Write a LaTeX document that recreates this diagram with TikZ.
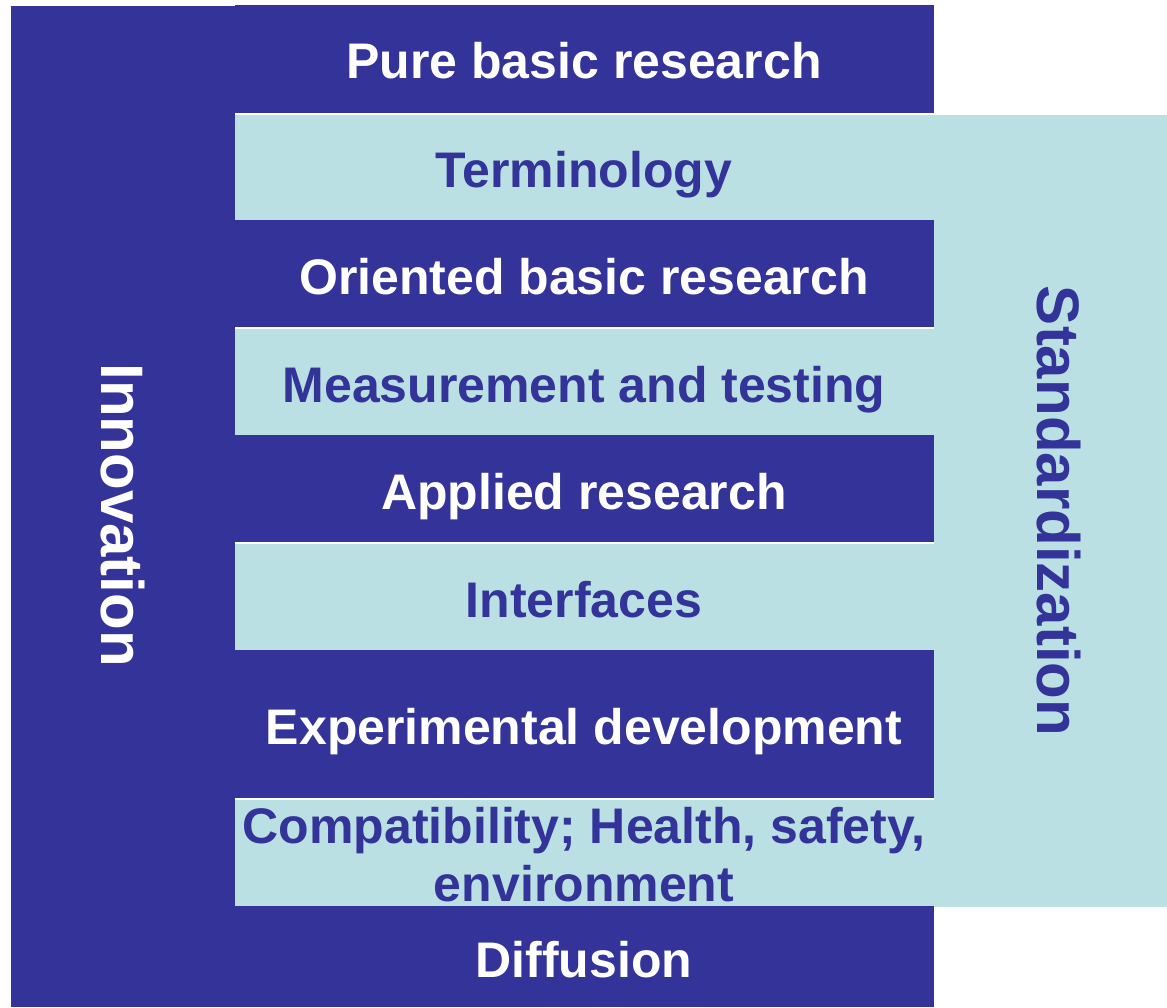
\documentclass[tikz,border=0pt]{standalone}
\usepackage{fontspec}
\setmainfont{Liberation Sans}
\definecolor{innoblue}{RGB}{51,51,153}
\definecolor{stdcyan}{RGB}{186,224,227}

\begin{document}
\begin{tikzpicture}[x=1pt,y=-1pt,
		lab/.style={font=\fontsize{50}{58}\selectfont\bfseries, inner sep=0pt, align=center},
		darklab/.style={lab, text=white},
		lightlab/.style={lab, text=innoblue},
		sidelab/.style={font=\fontsize{60}{72}\selectfont\bfseries, inner sep=0pt, rotate=-90}]
		\useasboundingbox (0,0) rectangle (1167,1007);
		\fill[innoblue] (11,6) rectangle (934,1007);
		\fill[innoblue] (235,5) rectangle (934,6);
		\fill[stdcyan] (934,115) rectangle (1167,907);
		\foreach \top/\bot in {115/220, 329/435, 544/650, 800/906}{
			\fill[stdcyan] (235,\top) rectangle (934,\bot);
			\draw[white, line width=2pt] (235,\top-1) -- (934,\top-1);
		}
		\node[darklab, anchor = base] (pure) at (584,78) {Pure basic research};
		\node[lightlab, anchor = base] (term) at (584,187) {Terminology};
		\node[darklab, anchor = base] (orient) at (584,294) {Oriented basic research};
		\node[lightlab, anchor = base] (meas) at (584,402) {Measurement and testing};
		\node[darklab, anchor = base] (appl) at (584,509) {Applied research};
		\node[lightlab, anchor = base] (intf) at (584,617) {Interfaces};
		\node[darklab, anchor = base] (exper) at (584,744) {Experimental development};
		\node[lightlab] (compat) at (584,855) {Compatibility; Health, safety,\\environment};
		\node[darklab, anchor = base] (diffu) at (584,977) {Diffusion};
		\node[sidelab, text=white] (inno) at (123,515) {Innovation};
		\node[sidelab, text=innoblue] (stand) at (1059,511) {Standardization};
	\end{tikzpicture}
\end{document}
